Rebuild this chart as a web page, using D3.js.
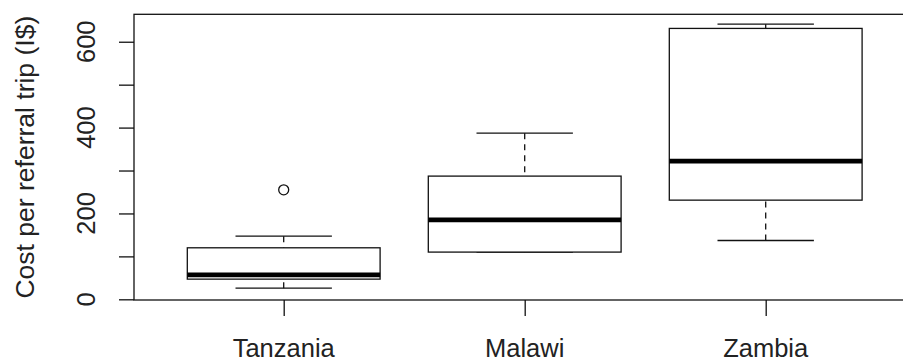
<!DOCTYPE html>
<html>
<head>
<meta charset="utf-8">
<script src="https://cdn.jsdelivr.net/npm/d3@7"></script>
<style>
  html, body { margin: 0; padding: 0; background: #fff; }
  svg { display: block; font-family: "Liberation Sans", Arial, sans-serif; }
</style>
</head>
<body>
<div id="chart"></div>
<script>
const countries = ["Tanzania", "Malawi", "Zambia"];
const lowerWhisker = [26, 110, 137];
const q1 = [47, 110, 231];
const median = [57, 185, 322];
const q3 = [120, 287, 631];
const upperWhisker = [147, 387, 641];
const outliers = [[255], [], []];
const yTicks = [0, 100, 200, 300, 400, 500, 600];
const yTitle = "Cost per referral trip (I$)";

const width = 903, height = 362;
const plot = { left: 134, top: 14.3, bottom: 300, right: 915 };

const svg = d3.select("#chart").append("svg")
  .attr("width", width).attr("height", height);

const x = d3.scalePoint()
  .domain(countries)
  .range([283.7, 765.7]);

const y = d3.scaleLinear()
  .domain([-1.6, 663.9])
  .range([plot.bottom, plot.top]);

const step = x.step();
const boxHalf = step * 0.4;
const capHalf = step * 0.2;
const ink = "#111";

// plot frame
svg.append("rect")
  .attr("x", plot.left).attr("y", plot.top)
  .attr("width", plot.right - plot.left).attr("height", plot.bottom - plot.top)
  .attr("fill", "none").attr("stroke", ink).attr("stroke-width", 1.3);

// y axis
const yAxis = svg.append("g")
  .attr("transform", `translate(${plot.left},0)`)
  .call(d3.axisLeft(y).tickValues(yTicks).tickSize(15).tickFormat(""));
yAxis.select(".domain").remove();
yAxis.selectAll(".tick line").attr("stroke", ink).attr("stroke-width", 1.3);

svg.append("g").selectAll("text")
  .data(yTicks.filter(d => d % 200 === 0))
  .join("text")
  .attr("transform", d => `translate(95,${y(d)}) rotate(-90)`)
  .attr("text-anchor", "middle")
  .attr("font-size", 25.5)
  .attr("fill", "#222")
  .text(d => d);

svg.append("text")
  .attr("transform", `translate(33.5,${(plot.top + plot.bottom) / 2}) rotate(-90)`)
  .attr("text-anchor", "middle")
  .attr("font-size", 26.5)
  .attr("fill", "#222")
  .text(yTitle);

// x axis
const xAxis = svg.append("g")
  .attr("transform", `translate(0,${plot.bottom})`)
  .call(d3.axisBottom(x).tickSize(16).tickFormat(""));
xAxis.select(".domain").remove();
xAxis.selectAll(".tick line").attr("stroke", ink).attr("stroke-width", 1.3);

svg.append("g").selectAll("text")
  .data(countries)
  .join("text")
  .attr("x", d => x(d))
  .attr("y", 357)
  .attr("text-anchor", "middle")
  .attr("font-size", 25.5)
  .attr("fill", "#222")
  .text(d => d);

// boxes
const stats = countries.map((c, i) => ({
  c, lo: lowerWhisker[i], q1: q1[i], med: median[i], q3: q3[i], hi: upperWhisker[i], out: outliers[i]
}));

const g = svg.append("g");
const box = g.selectAll("g.box").data(stats).join("g").attr("class", "box");

// whiskers, dashed from the whisker end toward the box
box.append("line")
  .attr("x1", d => x(d.c)).attr("x2", d => x(d.c))
  .attr("y1", d => y(d.hi)).attr("y2", d => y(d.q3))
  .attr("stroke", ink).attr("stroke-width", 1.3).attr("stroke-dasharray", "6,5");
box.append("line")
  .attr("x1", d => x(d.c)).attr("x2", d => x(d.c))
  .attr("y1", d => y(d.lo)).attr("y2", d => y(d.q1))
  .attr("stroke", ink).attr("stroke-width", 1.3).attr("stroke-dasharray", "6,5");

// caps
box.append("line")
  .attr("x1", d => x(d.c) - capHalf).attr("x2", d => x(d.c) + capHalf)
  .attr("y1", d => y(d.hi)).attr("y2", d => y(d.hi))
  .attr("stroke", ink).attr("stroke-width", 1.3);
box.append("line")
  .attr("x1", d => x(d.c) - capHalf).attr("x2", d => x(d.c) + capHalf)
  .attr("y1", d => y(d.lo)).attr("y2", d => y(d.lo))
  .attr("stroke", ink).attr("stroke-width", 1.3);

box.append("rect")
  .attr("x", d => x(d.c) - boxHalf)
  .attr("width", boxHalf * 2)
  .attr("y", d => y(d.q3))
  .attr("height", d => y(d.q1) - y(d.q3))
  .attr("fill", "#fff").attr("stroke", ink).attr("stroke-width", 1.3);

box.append("line")
  .attr("x1", d => x(d.c) - boxHalf).attr("x2", d => x(d.c) + boxHalf)
  .attr("y1", d => y(d.med)).attr("y2", d => y(d.med))
  .attr("stroke", "#000").attr("stroke-width", 4.6);

box.selectAll("circle")
  .data(d => d.out.map(v => ({ c: d.c, v })))
  .join("circle")
  .attr("cx", d => x(d.c)).attr("cy", d => y(d.v))
  .attr("r", 5)
  .attr("fill", "none").attr("stroke", ink).attr("stroke-width", 1.3);
</script>
</body>
</html>
